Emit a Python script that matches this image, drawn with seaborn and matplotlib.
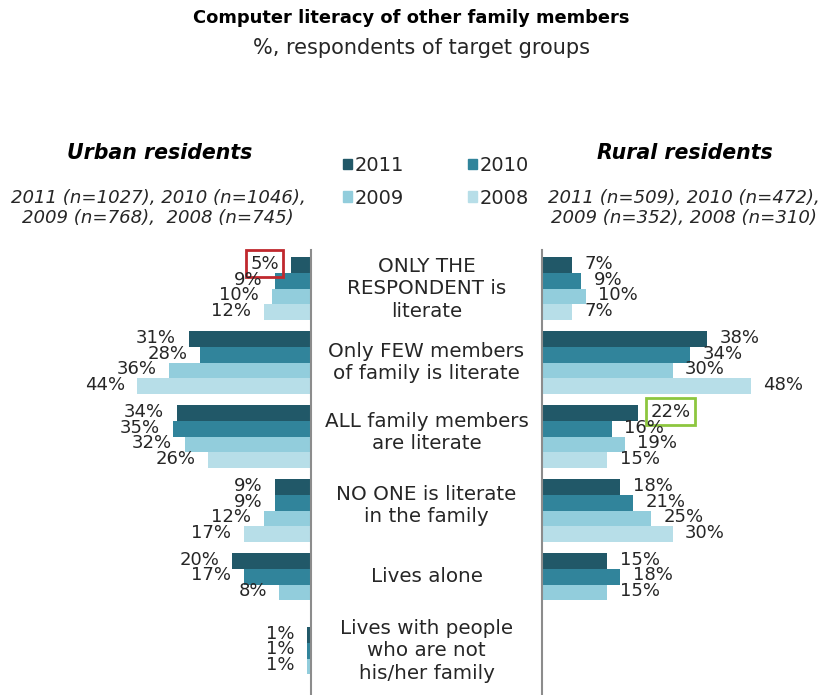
import matplotlib
matplotlib.use("Agg")
import matplotlib.pyplot as plt
from matplotlib.patches import Patch
import seaborn as sns
import numpy as np
import pandas as pd

# ---- data ----
categories = [
    "ONLY THE\nRESPONDENT is\nliterate",
    "Only FEW members\nof family is literate",
    "ALL family members\nare literate",
    "NO ONE is literate\nin the family",
    "Lives alone",
    "Lives with people\nwho are not\nhis/her family",
]
years = ["2011", "2010", "2009", "2008"]

urban_2011 = [5, 31, 34, 9, 20, 1]
urban_2010 = [9, 28, 35, 9, 17, 1]
urban_2009 = [10, 36, 32, 12, 8, 1]
urban_2008 = [12, 44, 26, 17, np.nan, np.nan]

rural_2011 = [7, 38, 22, 18, 15, np.nan]
rural_2010 = [9, 34, 16, 21, 18, np.nan]
rural_2009 = [10, 30, 19, 25, 15, np.nan]
rural_2008 = [7, 48, 15, 30, np.nan, np.nan]

urban_note = "2011 (n=1027), 2010 (n=1046),\n2009 (n=768),  2008 (n=745)"
rural_note = "2011 (n=509), 2010 (n=472),\n2009 (n=352), 2008 (n=310)"

palette = {"2011": "#215868", "2010": "#31849B", "2009": "#92CDDC", "2008": "#B7DEE8"}


def long_frame(series):
    rows = []
    for yr, vals in zip(years, series):
        for cat, v in zip(categories, vals):
            rows.append({"category": cat, "year": yr, "value": v})
    return pd.DataFrame(rows)


urban = long_frame([urban_2011, urban_2010, urban_2009, urban_2008])
rural = long_frame([rural_2011, rural_2010, rural_2009, rural_2008])

# ---- figure ----
sns.set_style("white")
plt.rcParams["font.family"] = ["DejaVu Sans"]
TXT = "#262626"

W, H = 822, 695
fig = plt.figure(figsize=(W / 100, H / 100), dpi=100)

ax_top_px, ax_bot_px = 250, 695
left_axis_px, right_axis_px = 311, 542
ax_l = fig.add_axes([0, 0, left_axis_px / W, (ax_bot_px - ax_top_px) / H])
ax_r = fig.add_axes([right_axis_px / W, 0, (W - right_axis_px) / W,
                     (ax_bot_px - ax_top_px) / H])

for ax, df in ((ax_l, urban), (ax_r, rural)):
    sns.barplot(data=df, y="category", x="value", hue="year", order=categories,
                hue_order=years, palette=palette, saturation=1, orient="h",
                width=0.85, errorbar=None, linewidth=0, ax=ax)
    ax.get_legend().remove()
    ax.set(xlabel="", ylabel="", xticks=[], yticks=[])
    ax.set_ylim(5.49, -0.524)
    for s in ax.spines.values():
        s.set_visible(False)
    ax.patch.set_alpha(0)

# urban bars grow leftwards from the central column
ax_l.set_xlim(left_axis_px / 3.95, 0)
ax_r.set_xlim(0, (W - right_axis_px) / 4.35)
ax_l.spines["right"].set_visible(True)
ax_r.spines["left"].set_visible(True)
for ax, side in ((ax_l, "right"), (ax_r, "left")):
    ax.spines[side].set_color("#8c8c8c")
    ax.spines[side].set_linewidth(1.5)

# highlighted labels: (panel, year, category index) -> box colour
highlight = {("urban", "2011", 0): "#C0282E", ("rural", "2011", 2): "#8DC63F"}

for name, ax, sign in (("urban", ax_l, -1), ("rural", ax_r, 1)):
    for yr, cont in zip(years, ax.containers):
        for bar in cont:
            w = bar.get_width()
            if not np.isfinite(w) or w == 0:
                continue
            yc = bar.get_y() + bar.get_height() / 2
            cat_idx = int(round(yc))
            box = highlight.get((name, yr, cat_idx))
            kw = {}
            if box:
                kw["bbox"] = dict(boxstyle="square,pad=0.25", fc="none",
                                  ec=box, lw=2)
            ax.annotate(f"{w:.0f}%", xy=(w, yc), xytext=(sign * 9, 1),
                        textcoords="offset points", va="center",
                        ha="left" if sign > 0 else "right",
                        fontsize=13, color=TXT, **kw)

# category labels in the middle column
mid_x = (left_axis_px + right_axis_px) / 2 / W
n_bars = [sum(np.isfinite(s[i]) for s in (urban_2011, urban_2010, urban_2009, urban_2008))
          for i in range(len(categories))]
label_nudge_px = [0, 0, 4, 5, 0, 0]
for i, cat in enumerate(categories):
    # centre the label on the bars that are present
    yc = i - 0.85 / 2 + 0.85 / 4 * n_bars[i] / 2
    ypx = ax_l.transData.transform((0, yc))[1] + label_nudge_px[i]
    fig.text(mid_x, ypx / H, cat, ha="center", va="center", fontsize=14.3,
             color=TXT, linespacing=1.22)

# titles
fig.text(0.5, 1 - 18 / H, "Computer literacy of other family members",
         ha="center", va="center", fontsize=12.9, fontweight="bold", color="black")
fig.text(421 / W, 1 - 48 / H, "%, respondents of target groups",
         ha="center", va="center", fontsize=15, color=TXT)

fig.text(160 / W, 1 - 153 / H, "Urban residents", ha="center", va="center",
         fontsize=14.8, fontweight="bold", fontstyle="italic", color="black")
fig.text(685 / W, 1 - 153 / H, "Rural residents", ha="center", va="center",
         fontsize=14.8, fontweight="bold", fontstyle="italic", color="black")
fig.text(158 / W, 1 - 208 / H, urban_note, ha="center", va="center",
         fontsize=13.1, fontstyle="italic", color=TXT, linespacing=1.2)
fig.text(684 / W, 1 - 208 / H, rural_note, ha="center", va="center",
         fontsize=13.1, fontstyle="italic", color=TXT, linespacing=1.2)

# legend, two rows
order = ["2011", "2009", "2010", "2008"]
leg = fig.legend([Patch(color=palette[y]) for y in order], order, ncol=2,
                 loc="upper left", bbox_to_anchor=(343 / W, 1 - 156 / H),
                 frameon=False, fontsize=14, handlelength=0.45, handleheight=0.45,
                 handletextpad=0.15, columnspacing=3.3, labelspacing=0.7,
                 borderpad=0, borderaxespad=0)
for t in leg.get_texts():
    t.set_color(TXT)

fig.savefig("out.png", dpi=100)
